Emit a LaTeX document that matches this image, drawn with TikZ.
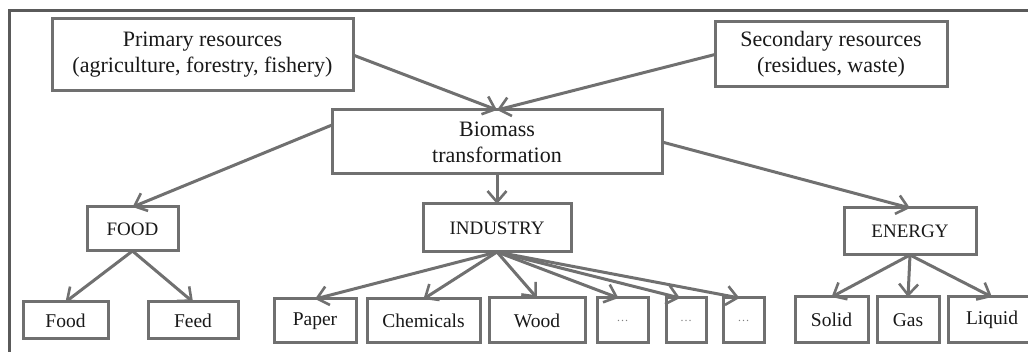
\documentclass[tikz,border=0pt]{standalone}
\usepackage{fontspec}
\setmainfont{Liberation Serif}
\usetikzlibrary{arrows.meta}
\definecolor{lgray}{HTML}{707070}
\definecolor{fgray}{HTML}{5A5A5A}
\begin{document}
\begin{tikzpicture}[x=1pt,y=-1pt,
  box/.style={draw=lgray,line width=3pt,fill=white,inner sep=0pt,outer sep=0pt,
    align=center,font=\fontsize{19.5}{24}\selectfont,text=black!90},
  bigbox/.style={box,font=\fontsize{22}{26}\selectfont},
  midbox/.style={box,font=\fontsize{19}{24}\selectfont},
  dotbox/.style={box,font=\fontsize{12}{14}\selectfont,text=gray},
  conn/.style={draw=lgray,line width=3pt,-{Straight Barb[length=11pt,width=19pt,line width=2.6pt]}}]
\useasboundingbox (0,0) rectangle (1028,352);
\draw[fgray,line width=2.4pt] (9.5,352) -- (9.5,10.5) -- (1030,10.5);
\node[bigbox,minimum width=301pt,minimum height=72pt] (prim) at (202.5,55) {Primary resources\\(agriculture, forestry, fishery)};
\node[bigbox,minimum width=232pt,minimum height=65pt] (sec) at (831,54.5) {Secondary resources\\(residues, waste)};
\node[bigbox,minimum width=330pt,minimum height=64pt] (bio) at (497,142) {Biomass\\transformation};
\node[midbox,minimum width=91pt,minimum height=44pt] (food) at (132.5,229) {FOOD};
\node[midbox,minimum width=148pt,minimum height=48pt] (ind) at (497,228) {INDUSTRY};
\node[midbox,minimum width=132pt,minimum height=47pt] (en) at (910,231.5) {ENERGY};
\node[box,minimum width=85pt,minimum height=37pt] (f1) at (65.5,320.5) {Food};
\node[box,minimum width=90pt,minimum height=37pt] (f2) at (193,320.5) {Feed};
\node[box,minimum width=82pt,minimum height=44pt] (i1) at (315,321) {Paper};
\node[box,minimum width=113pt,minimum height=44pt] (i2) at (423.5,321) {Chemicals};
\node[box,minimum width=96pt,minimum height=45pt] (i3) at (537,320.5) {Wood};
\node[dotbox,minimum width=51pt,minimum height=45pt] (i4) at (622.5,320.5) {\dots};
\node[dotbox,minimum width=40pt,minimum height=45pt] (i5) at (686,320.5) {\dots};
\node[dotbox,minimum width=41pt,minimum height=45pt] (i6) at (743.5,320.5) {\dots};
\node[box,minimum width=73pt,minimum height=46pt] (e1) at (831.5,320) {Solid};
\node[box,minimum width=62pt,minimum height=46pt] (e2) at (908,320) {Gas};
\node[box,minimum width=88pt,minimum height=46pt] (e3) at (992,320) {Liquid};
\draw[conn] (prim.east) -- (bio.north);
\draw[conn] (sec.west) -- (bio.north);
\draw[conn] ([yshift=17pt]bio.west) -- (food.north);
\draw[conn] (bio.south) -- (ind.north);
\draw[conn] (bio.east) -- (en.north);
\draw[conn] (food.south) -- (f1.north);
\draw[conn] (food.south) -- (f2.north);
\draw[conn] (ind.south) -- (i1.north);
\draw[conn] (ind.south) -- (i2.north);
\draw[conn] (ind.south) -- (i3.north);
\draw[conn] (ind.south) -- ([xshift=-4pt]i4.north);
\draw[conn] (ind.south) -- ([xshift=-6pt]i5.north);
\draw[conn] (ind.south) -- ([xshift=-4pt]i6.north);
\draw[conn] (en.south) -- (e1.north);
\draw[conn] (en.south) -- (e2.north);
\draw[conn] (en.south) -- (e3.north);
\end{tikzpicture}
\end{document}
